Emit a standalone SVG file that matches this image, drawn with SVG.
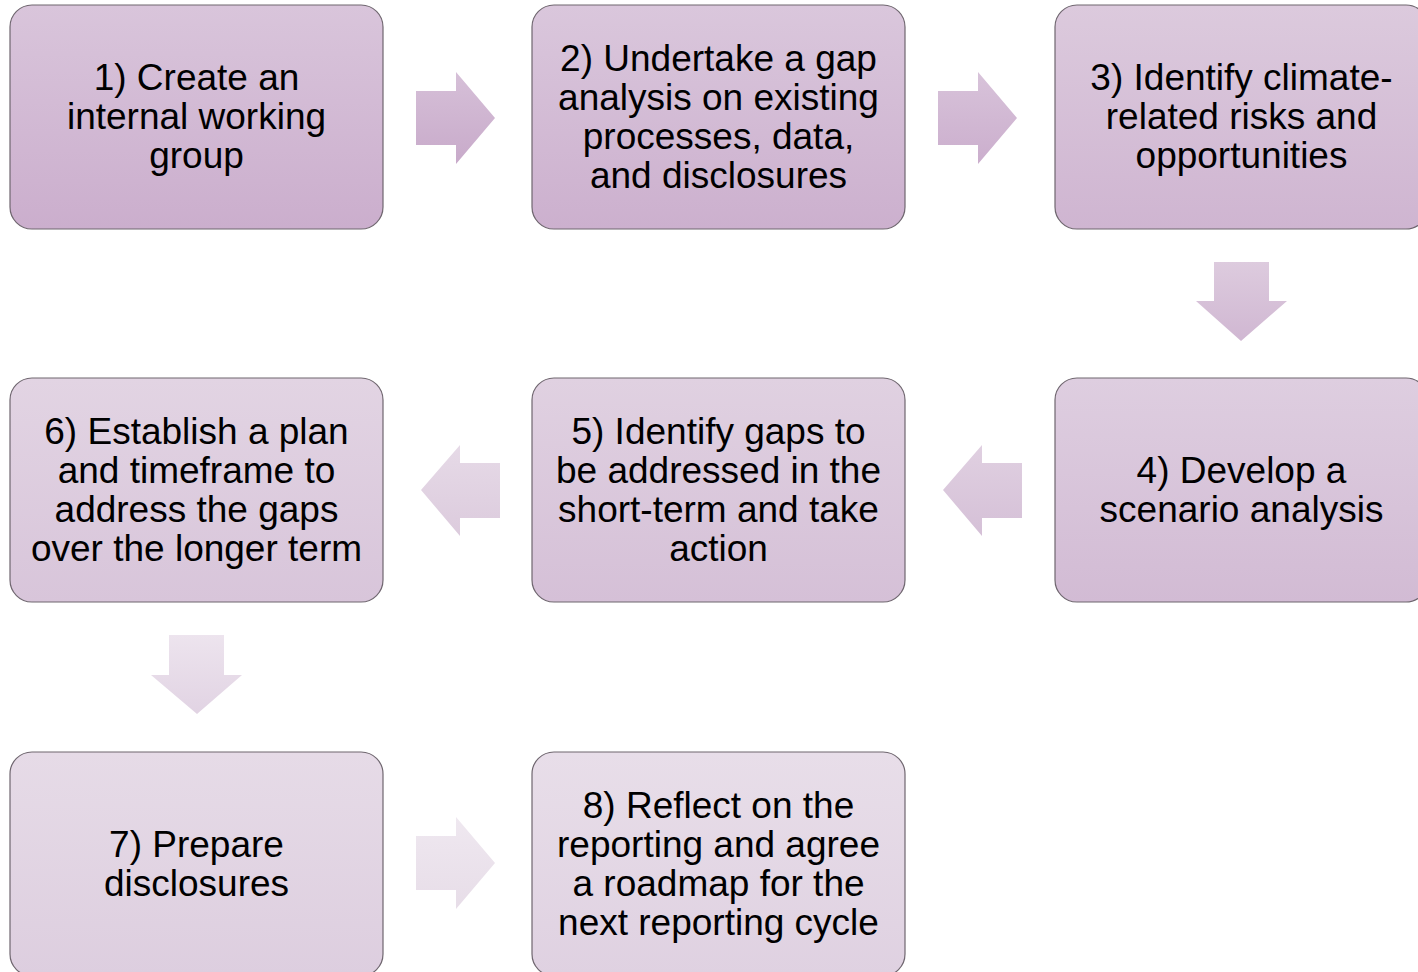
<svg xmlns="http://www.w3.org/2000/svg" width="1418" height="972" viewBox="0 0 1418 972">
<style>
.box{stroke:#6f666f;stroke-width:1.2}
.t{font-family:"Liberation Sans",Arial,sans-serif;font-size:37px;fill:#000;text-anchor:middle}
</style>
<defs>
<linearGradient id="g1" x1="0" y1="0" x2="0" y2="1"><stop offset="0" stop-color="#d9c5db"/><stop offset="1" stop-color="#cbaecd"/></linearGradient>
<linearGradient id="g2" x1="0" y1="0" x2="0" y2="1"><stop offset="0" stop-color="#dac7dc"/><stop offset="1" stop-color="#ccb0ce"/></linearGradient>
<linearGradient id="g3" x1="0" y1="0" x2="0" y2="1"><stop offset="0" stop-color="#dccadd"/><stop offset="1" stop-color="#cfb5d1"/></linearGradient>
<linearGradient id="g4" x1="0" y1="0" x2="0" y2="1"><stop offset="0" stop-color="#decee0"/><stop offset="1" stop-color="#d2bbd4"/></linearGradient>
<linearGradient id="g5" x1="0" y1="0" x2="0" y2="1"><stop offset="0" stop-color="#e0d1e1"/><stop offset="1" stop-color="#d5c0d7"/></linearGradient>
<linearGradient id="g6" x1="0" y1="0" x2="0" y2="1"><stop offset="0" stop-color="#e2d4e3"/><stop offset="1" stop-color="#d8c5da"/></linearGradient>
<linearGradient id="g7" x1="0" y1="0" x2="0" y2="1"><stop offset="0" stop-color="#e6dbe7"/><stop offset="1" stop-color="#ddcedf"/></linearGradient>
<linearGradient id="g8" x1="0" y1="0" x2="0" y2="1"><stop offset="0" stop-color="#e8dee9"/><stop offset="1" stop-color="#dfd1e1"/></linearGradient>
<linearGradient id="a1" x1="0" y1="0" x2="0" y2="1"><stop offset="0" stop-color="#d6c0d8"/><stop offset="1" stop-color="#c8aaca"/></linearGradient>
<linearGradient id="a2" x1="0" y1="0" x2="0" y2="1"><stop offset="0" stop-color="#d8c3da"/><stop offset="1" stop-color="#cbaecd"/></linearGradient>
<linearGradient id="a3" x1="0" y1="0" x2="0" y2="1"><stop offset="0" stop-color="#ddcbde"/><stop offset="1" stop-color="#d0b7d2"/></linearGradient>
<linearGradient id="a4" x1="0" y1="0" x2="0" y2="1"><stop offset="0" stop-color="#e0d0e1"/><stop offset="1" stop-color="#d5c0d7"/></linearGradient>
<linearGradient id="a5" x1="0" y1="0" x2="0" y2="1"><stop offset="0" stop-color="#e6dae7"/><stop offset="1" stop-color="#dccbdd"/></linearGradient>
<linearGradient id="a6" x1="0" y1="0" x2="0" y2="1"><stop offset="0" stop-color="#ede4ee"/><stop offset="1" stop-color="#e1d3e3"/></linearGradient>
<linearGradient id="a7" x1="0" y1="0" x2="0" y2="1"><stop offset="0" stop-color="#efe8f0"/><stop offset="1" stop-color="#e7dde8"/></linearGradient>
</defs>

<g id="connectors">
<polygon fill="url(#a1)" points="416,91 456,91 456,72 495,118 456,164 456,145 416,145"/>
<polygon fill="url(#a2)" points="938,91 978,91 978,72 1017,118 978,164 978,145 938,145"/>
<polygon fill="url(#a3)" points="1214,262 1269,262 1269,301 1287,301 1241,341 1196,301 1214,301"/>
<polygon fill="url(#a4)" points="1022,463 982,463 982,445 943,490 982,536 982,518 1022,518"/>
<polygon fill="url(#a5)" points="500,463 460,463 460,445 421,490 460,536 460,518 500,518"/>
<polygon fill="url(#a6)" points="169,635 224,635 224,675 242,675 197,714 151,675 169,675"/>
<polygon fill="url(#a7)" points="416,836 456,836 456,817 495,863 456,909 456,890 416,890"/>
</g>

<g id="n1">
<rect class="box" x="10" y="5" width="373" height="224" rx="22" fill="url(#g1)"/>
<text class="t" x="196.5" y="90">1) Create an</text>
<text class="t" x="196.5" y="129">internal working</text>
<text class="t" x="196.5" y="168">group</text>
</g>
<g id="n2">
<rect class="box" x="532" y="5" width="373" height="224" rx="22" fill="url(#g2)"/>
<text class="t" x="718.5" y="70.5">2) Undertake a gap</text>
<text class="t" x="718.5" y="109.5">analysis on existing</text>
<text class="t" x="718.5" y="148.5">processes, data,</text>
<text class="t" x="718.5" y="187.5">and disclosures</text>
</g>
<g id="n3">
<rect class="box" x="1055" y="5" width="373" height="224" rx="22" fill="url(#g3)"/>
<text class="t" x="1241.5" y="90">3) Identify climate-</text>
<text class="t" x="1241.5" y="129">related risks and</text>
<text class="t" x="1241.5" y="168">opportunities</text>
</g>
<g id="n4">
<rect class="box" x="1055" y="378" width="373" height="224" rx="22" fill="url(#g4)"/>
<text class="t" x="1241.5" y="482.5">4) Develop a</text>
<text class="t" x="1241.5" y="521.5">scenario analysis</text>
</g>
<g id="n5">
<rect class="box" x="532" y="378" width="373" height="224" rx="22" fill="url(#g5)"/>
<text class="t" x="718.5" y="443.5">5) Identify gaps to</text>
<text class="t" x="718.5" y="482.5">be addressed in the</text>
<text class="t" x="718.5" y="521.5">short-term and take</text>
<text class="t" x="718.5" y="560.5">action</text>
</g>
<g id="n6">
<rect class="box" x="10" y="378" width="373" height="224" rx="22" fill="url(#g6)"/>
<text class="t" x="196.5" y="443.5">6) Establish a plan</text>
<text class="t" x="196.5" y="482.5">and timeframe to</text>
<text class="t" x="196.5" y="521.5">address the gaps</text>
<text class="t" x="196.5" y="560.5">over the longer term</text>
</g>
<g id="n7">
<rect class="box" x="10" y="752" width="373" height="224" rx="22" fill="url(#g7)"/>
<text class="t" x="196.5" y="856.5">7) Prepare</text>
<text class="t" x="196.5" y="895.5">disclosures</text>
</g>
<g id="n8">
<rect class="box" x="532" y="752" width="373" height="224" rx="22" fill="url(#g8)"/>
<text class="t" x="718.5" y="817.5">8) Reflect on the</text>
<text class="t" x="718.5" y="856.5">reporting and agree</text>
<text class="t" x="718.5" y="895.5">a roadmap for the</text>
<text class="t" x="718.5" y="934.5">next reporting cycle</text>
</g>
</svg>
